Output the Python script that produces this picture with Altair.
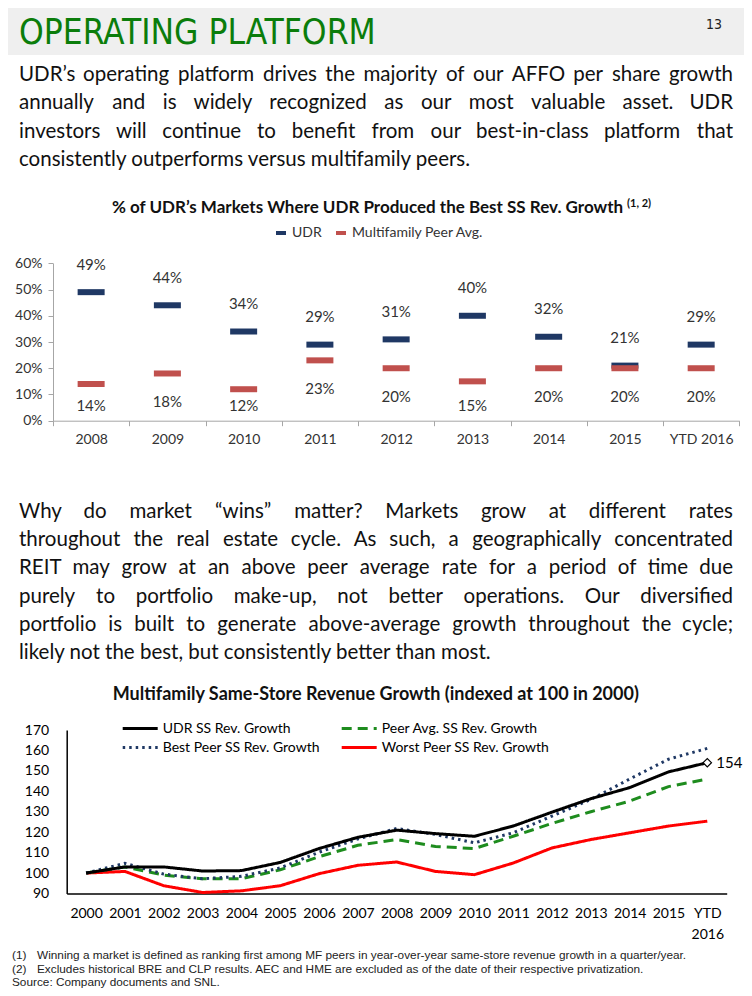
import altair as alt
import pandas as pd

W, H = 736, 980


def P(v):
    # page pixel -> plot pixel (page has an 8px margin)
    return v - 8


# ---------------- text content ----------------
title_text = "OPERATING PLATFORM"
page_no = "13"
para1 = [
    "UDR’s operating platform drives the majority of our AFFO per share growth",
    "annually and is widely recognized as our most valuable asset. UDR",
    "investors will continue to benefit from our best-in-class platform that",
    "consistently outperforms versus multifamily peers.",
]
para2 = [
    "Why do market “wins” matter?  Markets grow at different rates",
    "throughout the real estate cycle.  As such, a geographically concentrated",
    "REIT may grow at an above peer average rate for a period of time due",
    "purely to portfolio make-up, not better operations. Our diversified",
    "portfolio is built to generate above-average growth throughout the cycle;",
    "likely not the best, but consistently better than most.",
]
chart1_title = "% of UDR’s Markets Where UDR Produced the Best SS Rev. Growth"
chart1_sup = "(1, 2)"
chart2_title = "Multifamily Same-Store Revenue Growth (indexed at 100 in 2000)"
foot_nums = ["(1)", "(2)"]
foot_texts = [
    "Winning a market is defined as ranking first among MF peers in year-over-year same-store revenue growth in a quarter/year.",
    "Excludes historical BRE and CLP results. AEC and HME are excluded as of the date of their respective privatization.",
]
source_text = "Source:  Company documents and SNL."

# ---------------- chart 1 data ----------------
years1 = ["2008", "2009", "2010", "2011", "2012", "2013", "2014", "2015", "YTD 2016"]
series1 = ["UDR", "Multifamily Peer Avg."]
udr_pct = [49, 44, 34, 29, 31, 40, 32, 21, 29]
peer_pct = [14, 18, 12, 23, 20, 15, 20, 20, 20]
colors1 = ["#1f3864", "#c0504d"]

# ---------------- chart 2 data ----------------
years2 = ["2000", "2001", "2002", "2003", "2004", "2005", "2006", "2007", "2008",
          "2009", "2010", "2011", "2012", "2013", "2014", "2015", "YTD 2016"]
series2 = ["UDR SS Rev. Growth", "Best Peer SS Rev. Growth",
           "Peer Avg. SS Rev. Growth", "Worst Peer SS Rev. Growth"]
udr_idx = [100, 103, 103, 101, 101.2, 105.2, 112, 117.5, 121, 119.3, 118, 123, 129.8, 136.4, 141.8, 149.5, 154]
best_peer_idx = [100, 104.8, 99.5, 97.2, 98.4, 102.5, 110.2, 116.7, 121.8, 118.9, 114.8, 119.7, 127.9, 136, 146, 155.7, 161]
peer_avg_idx = [100, 103, 99, 97.2, 97.2, 101.6, 108, 113.6, 116.4, 113, 112, 118, 124.3, 130, 135.2, 142.3, 146]
worst_peer_idx = [100, 100.8, 93.8, 90.5, 91.3, 93.8, 99.7, 103.8, 105.4, 100.8, 99.2, 104.9, 112.3, 116.4, 119.7, 123, 125.4]
colors2 = ["#000000", "#1f3864", "#1e8c1e", "#ff0000"]
dashes2 = [[1, 0], [2.5, 4], [10, 6], [1, 0]]

BODY_FONT = "Lato"
NARROW_FONT = "Liberation Sans Narrow, DejaVu Sans Condensed, Liberation Sans, sans-serif"

# rough Lato advance widths (em) used only to spread words of justified lines
WID = {c: 0.56 for c in "bdhnopqu"}
WID.update({"a": .51, "c": .46, "e": .52, "f": .33, "g": .51, "i": .24, "j": .24, "k": .5, "l": .24,
            "m": .83, "r": .37, "s": .42, "t": .35, "v": .5, "w": .76, "x": .49, "y": .5, "z": .45,
            "A": .68, "B": .63, "C": .67, "D": .74, "E": .56, "F": .54, "G": .72, "H": .75, "I": .28,
            "J": .38, "K": .66, "L": .5, "M": .91, "N": .75, "O": .79, "P": .59, "Q": .79, "R": .61,
            "S": .52, "T": .58, "U": .72, "V": .68, "W": 1.0, "X": .65, "Y": .62, "Z": .6,
            ".": .22, ",": .22, "’": .22, "“": .4, "”": .4, "?": .42, ";": .24, "-": .33, ":": .24})


def est_width(word, size):
    return sum(WID.get(c, 0.55) for c in word) * size


def paragraph(lines, top, lh, size, left=19, right=733):
    rows = []
    for li, line in enumerate(lines):
        y = P(top + li * lh)
        if li == len(lines) - 1:
            rows.append({"t": line, "x": P(left), "y": y, "a": "l"})
            continue
        words = line.split()
        ws = [est_width(w, size) for w in words]
        gap = (right - left - sum(ws)) / (len(words) - 1)
        x = left
        for i, (w, ww) in enumerate(zip(words, ws)):
            if i == 0:
                rows.append({"t": w, "x": P(left), "y": y, "a": "l"})
            elif i == len(words) - 1:
                rows.append({"t": w, "x": P(right), "y": y, "a": "r"})
            else:
                rows.append({"t": w, "x": P(x + ww / 2), "y": y, "a": "c"})
            x += ww + gap
    base = alt.Chart(alt.Data(values=rows))
    out = []
    for key, al in (("l", "left"), ("c", "center"), ("r", "right")):
        out.append(base.transform_filter(f"datum.a == '{key}'").mark_text(
            font=BODY_FONT, fontSize=size, color="#111111", align=al, baseline="middle").encode(
            x=alt.X("x:Q", scale=None, axis=None), y=alt.Y("y:Q", scale=None, axis=None), text="t:N"))
    return out


def txt(text, x, y, **kw):
    return alt.Chart(alt.Data(values=[{"t": text}])).mark_text(**kw).encode(
        x=alt.value(x), y=alt.value(y), text="t:N")


# ---------------- header ----------------
band = alt.Chart(alt.Data(values=[{"a": 1}])).mark_rect(color="#efefef").encode(
    x=alt.value(-8), x2=alt.value(W + 8), y=alt.value(-8), y2=alt.value(P(55)))
title = txt(title_text, P(19), P(44), font=NARROW_FONT, fontSize=35,
            color="#0b7d0b", align="left", baseline="alphabetic")
pageno = txt(page_no, P(714), P(25), font=NARROW_FONT, fontSize=14,
             color="#222222", align="center", baseline="middle")

p1 = paragraph(para1, 75, 28.4, 20.5)
p2 = paragraph(para2, 511.7, 28.3, 20.5)

c1t = txt(chart1_title, P(367.5), P(208.3), font=BODY_FONT, fontSize=17, fontWeight="bold",
          color="#111111", align="center", baseline="middle")
c1s = txt(chart1_sup, P(627), P(204), font=BODY_FONT, fontSize=11, fontWeight="bold",
          color="#111111", align="left", baseline="middle")
c2t = txt(chart2_title, P(375.8), P(695), font=BODY_FONT, fontSize=18, fontWeight="bold",
          color="#111111", align="center", baseline="middle")

fn_font = dict(font="Liberation Sans", fontSize=11.8, color="#222222", align="left", baseline="middle")
fn1a = txt(foot_nums[0], P(12), P(955), **fn_font)
fn1b = txt(foot_texts[0], P(37), P(955), **fn_font)
fn2a = txt(foot_nums[1], P(12), P(968.5), **fn_font)
fn2b = txt(foot_texts[1], P(37), P(968.5), **fn_font)
fn3 = txt(source_text, P(12), P(982), **fn_font)

# ---------------- chart 1 ----------------
df1 = pd.DataFrame({
    "year": years1 * 2,
    "series": [series1[0]] * len(years1) + [series1[1]] * len(years1),
    "value": udr_pct + peer_pct,
})

x1_scale = alt.Scale(range=[P(53), P(739.3)], paddingInner=0, paddingOuter=0)
y1_scale = alt.Scale(domain=[0, 60], range=[P(420.7), P(263.3)], nice=False, zero=True)
x1_axis = alt.Axis(orient="bottom", offset=-(H - P(420.7)), labelAngle=0, tickBand="extent",
                   domainColor="#a6a6a6", tickColor="#a6a6a6", tickSize=5, labelPadding=7,
                   labelFont=BODY_FONT, labelFontSize=14, labelColor="#333333", title=None)
y1_axis = alt.Axis(orient="left", offset=-P(53), values=[0, 10, 20, 30, 40, 50, 60],
                   labelExpr="datum.value + '%'", grid=False, domainColor="#a6a6a6",
                   tickColor="#a6a6a6", tickSize=5, labelPadding=6,
                   labelFont=BODY_FONT, labelFontSize=14, labelColor="#333333", title=None)

ticks1 = alt.Chart(df1).mark_tick(thickness=6, size=27, orient="horizontal", opacity=1).encode(
    x=alt.X("year:N", sort=years1, scale=x1_scale, axis=x1_axis),
    y=alt.Y("value:Q", scale=y1_scale, axis=y1_axis),
    color=alt.Color("series:N", scale=alt.Scale(domain=series1, range=colors1),
                    legend=alt.Legend(orient="none", legendX=P(274), legendY=P(226), direction="horizontal",
                                      title=None, symbolType="M-1,-0.4H1V0.4H-1Z", symbolSize=100,
                                      symbolStrokeWidth=0, labelFont=BODY_FONT, labelFontSize=14,
                                      labelColor="#333333", columnPadding=12, labelOffset=4, padding=0)),
)
labels1 = alt.Chart(df1).transform_calculate(
    ly="datum.series == 'UDR' ? datum.value + 10.5 : max(datum.value - 11, 5.5)",
    lab="datum.value + '%'",
).mark_text(font=BODY_FONT, fontSize=15, color="#333333", baseline="middle").encode(
    x=alt.X("year:N", sort=years1, scale=x1_scale, axis=x1_axis),
    y=alt.Y("ly:Q", scale=y1_scale, axis=y1_axis),
    text="lab:N",
)
chart1 = alt.layer(ticks1, labels1)

# ---------------- chart 2 ----------------
all_vals = {series2[0]: udr_idx, series2[1]: best_peer_idx, series2[2]: peer_avg_idx, series2[3]: worst_peer_idx}
draw_order = [series2[3], series2[2], series2[1], series2[0]]
rows = []
for s in draw_order:
    for yr, v in zip(years2, all_vals[s]):
        rows.append({"year": yr, "series": s, "value": v})
df2 = pd.DataFrame(rows)

x2_scale = alt.Scale(type="point", range=[P(66.7), P(726.7)], padding=0.5)
y2_scale = alt.Scale(domain=[90, 170], range=[P(893.5), P(730)], nice=False, zero=False)
x2_axis = alt.Axis(orient="bottom", offset=-(H - P(893.5)), labelAngle=0, ticks=False,
                   labelPadding=13, labelExpr="split(datum.label, ' ')", labelLineHeight=21,
                   labelOverlap=False, domainColor="#000000", domainWidth=1.5,
                   labelFont=BODY_FONT, labelFontSize=14, labelColor="#000000", title=None)
y2_axis = alt.Axis(orient="left", offset=-P(66.7), values=list(range(90, 171, 10)), ticks=False,
                   labelPadding=18, grid=False, domainColor="#000000", domainWidth=1.5,
                   labelFont=BODY_FONT, labelFontSize=14, labelColor="#000000", title=None)
x2 = alt.X("year:N", sort=years2, scale=x2_scale, axis=x2_axis)
y2 = alt.Y("value:Q", scale=y2_scale, axis=y2_axis)

# a 35px line symbol drawn left of a small nominal symbol box so that rows stay tight
leg2 = dict(orient="none", legendX=P(120.7) + 25, legendY=P(721.5), columns=2, title=None,
            symbolType="M-6,0H1", symbolSize=100, symbolStrokeWidth=3,
            labelFont=BODY_FONT, labelFontSize=14, labelColor="#000000", labelLimit=400,
            labelOffset=3, columnPadding=15, rowPadding=5, padding=0)

lines2 = alt.Chart(df2).mark_line(strokeWidth=3).encode(
    x=x2, y=y2,
    color=alt.Color("series:N", scale=alt.Scale(domain=series2, range=colors2), legend=alt.Legend(**leg2)),
    strokeDash=alt.StrokeDash("series:N", scale=alt.Scale(domain=series2, range=dashes2),
                              legend=alt.Legend(**leg2)),
)
last2 = alt.Chart(df2).transform_filter(
    "datum.series == 'UDR SS Rev. Growth' && datum.year == 'YTD 2016'")
marker2 = last2.mark_point(shape="diamond", size=70, filled=True, fill="white",
                           stroke="#000000", strokeWidth=1.2, opacity=1).encode(x=x2, y=y2)
label2 = last2.mark_text(align="left", dx=9, font=BODY_FONT, fontSize=15, color="#000000",
                         baseline="middle").encode(
    x=x2, y=y2, text=alt.Text("value:Q", format=".0f"))
chart2 = alt.layer(lines2, marker2, label2)

chart = alt.layer(
    band, title, pageno, *p1, *p2, c1t, c1s, c2t,
    fn1a, fn1b, fn2a, fn2b, fn3,
    chart1, chart2,
).resolve_scale(
    x="independent", y="independent", color="independent", strokeDash="independent"
).properties(
    width=W, height=H, padding=0, autosize=alt.AutoSizeParams(type="none"),
    background="#ffffff",
).configure_view(stroke=None)

chart.save("out.html", embed_options={"renderer": "svg", "actions": False})
